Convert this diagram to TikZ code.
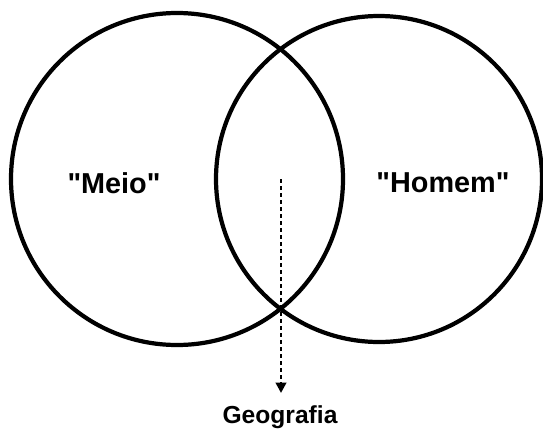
\documentclass[tikz,border=0pt]{standalone}
\usepackage{fontspec}
\setmainfont{Liberation Sans}
\usetikzlibrary{arrows.meta}
\usetikzlibrary{positioning}

\tikzset{
  ring/.style={line width=3pt},
  word/.style={font=\bfseries\fontsize{20.5}{24}\selectfont, inner sep=0pt},
}

\begin{document}
\begin{tikzpicture}[x=0.025cm,y=-0.025cm]
\useasboundingbox (0,0) rectangle (543,434);

    % centres of the two sets
    \coordinate (m) at (177,179);
    \coordinate (h) at (379,179);

    \draw[ring] (m) circle [radius=166];
    \draw[ring] (h) circle [radius=163];

    % labels of the sets
    \node[word] (meio) at (114,183) {\textquotedbl Meio\textquotedbl};
    \node[word] (homem) at (443,183) {\textquotedbl Homem\textquotedbl};

    % the intersection points to the discipline
    \coordinate (s) at (281,179);
    \node[font=\bfseries\fontsize{17.5}{20}\selectfont, inner sep=0pt, anchor=base] (geo) at (280,423) {Geografia};
    \coordinate (t) at (281,393);

    \draw[line width=1.9pt, dash pattern=on 0.1cm off 0.075cm, -{Triangle[width=0.26cm,length=0.26cm]}] (s) -- (t);

\end{tikzpicture}
\end{document}
